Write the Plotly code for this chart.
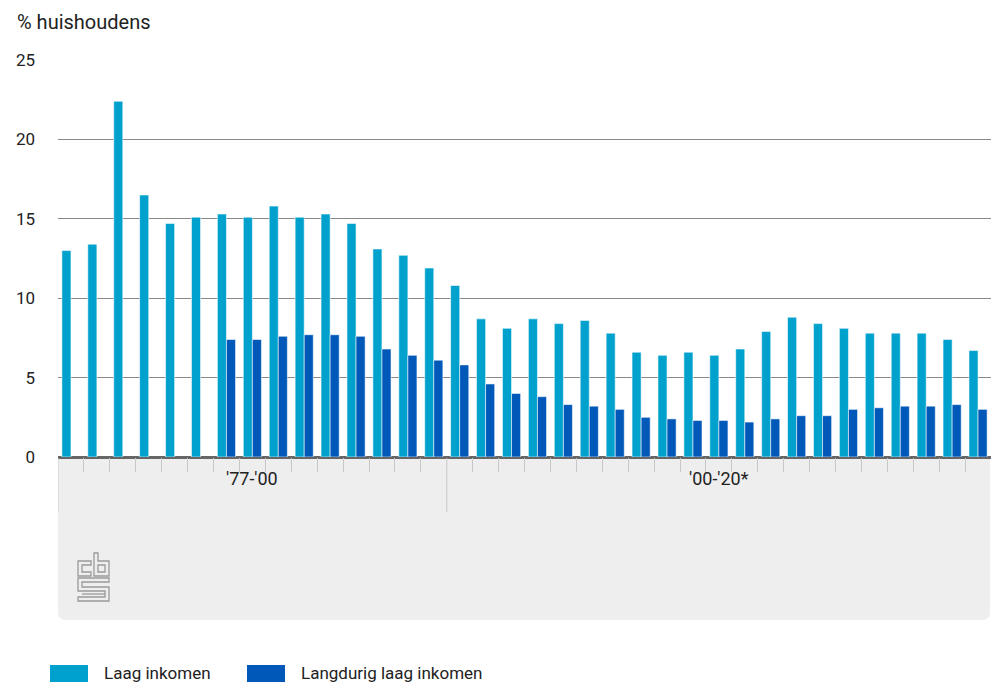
import plotly.graph_objects as go

# Data
periods = ["'77-'00", "'00-'20*"]
period_sizes = [15, 21]
laag_inkomen = [13.0, 13.4, 22.4, 16.5, 14.7, 15.1, 15.3, 15.1, 15.8, 15.1, 15.3, 14.7,
                13.1, 12.7, 11.9,
                10.8, 8.7, 8.1, 8.7, 8.4, 8.6, 7.8, 6.6, 6.4, 6.6, 6.4, 6.8, 7.9, 8.8,
                8.4, 8.1, 7.8, 7.8, 7.8, 7.4, 6.7]
langdurig = [None, None, None, None, None, None, 7.4, 7.4, 7.6, 7.7, 7.7, 7.6,
             6.8, 6.4, 6.1,
             5.8, 4.6, 4.0, 3.8, 3.3, 3.2, 3.0, 2.5, 2.4, 2.3, 2.3, 2.2, 2.4, 2.6,
             2.6, 3.0, 3.1, 3.2, 3.2, 3.3, 3.0]
x_idx = list(range(len(laag_inkomen)))

LIGHT = "#00A1CD"
DARK = "#0058B8"
FONT = "Roboto"

W, H = 991, 684
# plot area in pixels: 58..991 x 60..457
L, T, B = 58, 60, 457
PW, PH = W - L, B - T


def px(x):
    return (x - L) / PW


def py(y):
    return (B - y) / PH


def path(points, close=True):
    s = "M " + " L ".join(f"{px(a):.5f},{py(b):.5f}" for a, b in points)
    return s + (" Z" if close else "")


fig = go.Figure()
fig.add_trace(go.Bar(x=x_idx, y=laag_inkomen, name="Laag inkomen",
                     marker=dict(color=LIGHT, line=dict(color="rgba(255,255,255,0.55)", width=1))))
fig.add_trace(go.Bar(x=x_idx, y=langdurig, name="Langdurig laag inkomen",
                     marker=dict(color=DARK, line=dict(color="rgba(255,255,255,0.55)", width=1))))

# grey panel below the axis with rounded bottom corners
r = 8
panel = (f"M {px(58):.5f},{py(457):.5f} L {px(990):.5f},{py(457):.5f} "
         f"L {px(990):.5f},{py(620 - r):.5f} Q {px(990):.5f},{py(620):.5f} {px(990 - r):.5f},{py(620):.5f} "
         f"L {px(58 + r):.5f},{py(620):.5f} Q {px(58):.5f},{py(620):.5f} {px(58):.5f},{py(620 - r):.5f} Z")
fig.add_shape(type="path", path=panel, xref="paper", yref="paper",
              fillcolor="#EEEEEE", line=dict(width=0), layer="below")

# long separators between periods
start = 0
for n in [0] + period_sizes[:-1]:
    start += n
    fig.add_shape(type="line", xref="x", yref="paper", x0=start - 0.5, x1=start - 0.5,
                  y0=py(458), y1=py(512), line=dict(color="#C8C8C8", width=1))

# period labels
start = 0
for label, n in zip(periods, period_sizes):
    fig.add_annotation(x=start + (n - 1) / 2, xref="x", y=py(491), yref="paper",
                       text=label, showarrow=False, font=dict(family=FONT, size=18, color="#222222"))
    start += n

# cbs logo (outline)
logo = dict(xref="paper", yref="paper", line=dict(color="#9A9A9A", width=1.3), fillcolor="rgba(0,0,0,0)")
fig.add_shape(type="path", path=path([(78, 561), (91, 561), (91, 565), (82, 565), (82, 572),
                                      (91, 572), (91, 576), (78, 576)]), **logo)
fig.add_shape(type="path", path=path([(94, 553), (98, 553), (98, 561), (109, 561), (109, 576),
                                      (94, 576)]), **logo)
fig.add_shape(type="path", path=path([(98, 565), (105, 565), (105, 572), (98, 572)]), **logo)
fig.add_shape(type="path", path=path([(78, 578), (109, 578), (109, 582), (82, 582), (82, 587),
                                      (109, 587), (109, 601), (78, 601), (78, 597), (105, 597),
                                      (105, 591), (78, 591)]), **logo)
fig.add_shape(type="path", path=path([(82, 594), (105, 594)], close=False), **logo)

# legend drawn by hand
for (x0, x1, tx, col, txt) in [(50, 88, 102, LIGHT, "Laag inkomen"),
                               (247, 285, 299, DARK, "Langdurig laag inkomen")]:
    fig.add_shape(type="rect", xref="paper", yref="paper", x0=px(x0), x1=px(x1),
                  y0=py(665), y1=py(682), fillcolor=col, line=dict(width=0))
    fig.add_annotation(x=px(tx), y=py(673), xref="paper", yref="paper", text=txt,
                       showarrow=False, xanchor="left", yanchor="middle",
                       font=dict(family=FONT, size=17, color="#222222"))

# y-axis title
fig.add_annotation(x=px(15), y=py(22), xref="paper", yref="paper", text="% huishoudens",
                   showarrow=False, xanchor="left", yanchor="middle",
                   font=dict(family=FONT, size=20, color="#222222"))

fig.update_layout(
    width=W, height=H,
    margin=dict(l=L, r=0, t=T, b=H - B),
    barmode="group", bargap=0.3, bargroupgap=0,
    showlegend=False,
    plot_bgcolor="white", paper_bgcolor="white",
    font=dict(family=FONT, size=16, color="#222222"),
)
fig.update_xaxes(range=[-0.5, len(x_idx) - 0.5], showgrid=False, zeroline=False, showline=False,
                 ticks="outside", tickvals=[k - 0.5 for k in range(1, len(x_idx)) if k != period_sizes[0]],
                 ticklen=14, tickcolor="#C8C8C8", tickwidth=1, showticklabels=False)
fig.update_yaxes(range=[0, 25], dtick=5, showgrid=True, gridcolor="#888888", gridwidth=1,
                 zeroline=True, zerolinecolor="#666666", zerolinewidth=3,
                 ticks="", ticklabelstandoff=22, tickfont=dict(family=FONT, size=17, color="#222222"))

# remove the default page margin so the figure fills the window exactly
fig.write_html("out.html", config={"displayModeBar": False},
               post_script="document.body.style.margin='0px';")
